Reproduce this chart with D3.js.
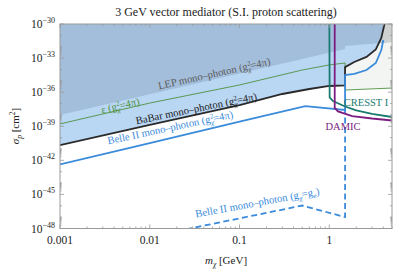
<!DOCTYPE html>
<html><head><meta charset="utf-8">
<script src="https://cdn.jsdelivr.net/npm/d3@7"></script>
<style>body{margin:0;background:#fff}svg text{font-family:"Liberation Serif","DejaVu Serif",serif}</style>
</head><body><svg id="c" width="399" height="269"></svg>
<script>
// ---- data (m in GeV, sigma in cm^2) ----
const lepM     = [0.001, 0.01, 0.1, 0.5, 1.0, 1.5, 1.5, 3.8, 5.0];
const lepSigma = [9.8e-39, 6.6e-37, 4.5e-35, 8.5e-34, 3.0e-33, 6.3e-33, 1.15e-32, 2.1e-32, 2.6e-32];

const epsM     = [0.001, 0.01, 0.1, 0.5, 1.0, 1.5, 1.5, 5.0];
const epsSigma = [1.6e-39, 1.1e-37, 4.3e-36, 8.9e-35, 2.5e-34, 3.7e-34, 1.55e-36, 2.3e-36];

const babarM     = [0.001, 0.01, 0.1, 0.3, 0.6, 1.0, 1.5, 1.5, 1.9, 2.6, 3.3, 3.8, 4.1, 4.2];
const babarSigma = [2.2e-41, 1.3e-39, 7.4e-38, 6.9e-37, 1.9e-36, 3.5e-36, 3.9e-36, 1.6e-34, 4.5e-34, 1.26e-33, 5.8e-33, 5.9e-32, 8.1e-31, 2.2e-30];

const belleM     = [0.001, 0.01, 0.1, 0.54, 1.5, 1.5, 1.9, 2.6, 3.3, 3.8, 4.0];
const belleSigma = [4.3e-43, 3.3e-41, 2.6e-39, 6.0e-38, 2.7e-38, 3.2e-35, 4.0e-35, 8.9e-35, 3.7e-34, 5.1e-33, 3.9e-32];

const belleGeM     = [0.02, 0.5, 1.5, 1.5];
const belleGeSigma = [5.8e-49, 1.05e-46, 1.02e-47, 2.7e-38];

const cresstM     = [1.0, 1.01, 1.1, 1.5, 2.0, 3.0, 5.0];
const cresstSigma = [1e-28, 3.4e-37, 1.66e-37, 5.5e-38, 2.45e-38, 1.2e-38, 6.5e-39];

const damicM     = [1.15, 1.15, 1.25, 1.8, 3.0, 5.0];
const damicSigma = [1e-28, 4.1e-38, 2.0e-38, 7.9e-39, 4.8e-39, 3.2e-39];

const greyM     = [3.75, 3.8, 4.1, 4.2, 5.0, 5.0];
const greySigma = [2.6e-32, 5.9e-32, 8.1e-31, 1e-30, 1e-30, 2.6e-32];

const xTickVals   = [0.001, 0.01, 0.1, 1];
const xTickLabels = ["0.001", "0.01", "0.1", "1"];
const yTickExps   = [-30, -33, -36, -39, -42, -45, -48];

const title = "3 GeV vector mediator (S.I. proton scattering)";

// ---- layout ----
const svg = d3.select("#c");
const L = 60, R = 392, T = 24, B = 228.5;
const x = d3.scaleLog().domain([0.001, 5]).range([L, R]);
const y = d3.scaleLog().domain([1e-48, 1e-30]).range([B, T]);

svg.append("defs").append("clipPath").attr("id","pc")
  .append("rect").attr("x",L).attr("y",T).attr("width",R-L).attr("height",B-T);
const g = svg.append("g").attr("clip-path","url(#pc)");

const pts = (ms, ss) => ms.map((m,i)=>[x(m), y(ss[i])]);
const line = d3.line();

// light grey region right of 1.5 GeV above eps line
const epsPts = pts(epsM, epsSigma);
const greyLow = epsPts.slice(6);
g.append("path").attr("fill","#f3f5f2")
  .attr("d", line([...greyLow, [x(5), y(1e-30)], [x(1.5), y(1e-30)]]) + "Z");

// BaBar light blue
const babarPts = pts(babarM, babarSigma);
g.append("path").attr("fill","#b9d6f3")
  .attr("d", line([...babarPts, [x(0.001), y(1e-28)]]) + "Z");

// LEP dark blue
const lepPts = pts(lepM, lepSigma);
g.append("path").attr("fill","#a3bedb")
  .attr("d", line([...lepPts, [x(5), y(1e-30)], [x(0.001), y(1e-30)]]) + "Z");

// grey corner
g.append("path").attr("fill","#cfd0d0")
  .attr("d", line(pts(greyM, greySigma)) + "Z");

// lines
g.append("path").attr("fill","none").attr("stroke","#4f9140").attr("stroke-width",0.9).attr("d", line(epsPts));
g.append("path").attr("fill","none").attr("stroke","#2a2a2a").attr("stroke-width",1.8).attr("d", line(babarPts));
g.append("path").attr("fill","none").attr("stroke","#3b8bdb").attr("stroke-width",1.8).attr("d", line(pts(belleM, belleSigma)));
g.append("path").attr("fill","none").attr("stroke","#3b8bdb").attr("stroke-width",1.8)
  .attr("stroke-dasharray","6,3.5").attr("d", line(pts(belleGeM, belleGeSigma)));
g.append("path").attr("fill","none").attr("stroke","#1b7a70").attr("stroke-width",1.8).attr("d", line(pts(cresstM, cresstSigma)));
g.append("path").attr("fill","none").attr("stroke","#7d1c80").attr("stroke-width",1.8).attr("d", line(pts(damicM, damicSigma)));

// frame
svg.append("rect").attr("x",L).attr("y",T).attr("width",R-L).attr("height",B-T)
  .attr("fill","none").attr("stroke","#999").attr("stroke-width",1);

// ticks
const tk = svg.append("g").attr("stroke","#999").attr("stroke-width",0.8);
const xMinor = [];
for (let e=-3; e<=0; e++) for (let k=2;k<=9;k++){ const v=k*Math.pow(10,e); if (v<=5) xMinor.push(v); }
xTickVals.forEach(v=>{
  tk.append("line").attr("x1",x(v)).attr("x2",x(v)).attr("y1",B).attr("y2",B-4);
  tk.append("line").attr("x1",x(v)).attr("x2",x(v)).attr("y1",T).attr("y2",T+4);
});
xMinor.forEach(v=>{
  tk.append("line").attr("x1",x(v)).attr("x2",x(v)).attr("y1",B).attr("y2",B-2);
  tk.append("line").attr("x1",x(v)).attr("x2",x(v)).attr("y1",T).attr("y2",T+2);
});
for (let e=-48; e<=-30; e++){
  const major = yTickExps.includes(e);
  const len = major ? 4 : 2;
  const yy = y(Math.pow(10,e));
  tk.append("line").attr("x1",L).attr("x2",L+len).attr("y1",yy).attr("y2",yy);
  tk.append("line").attr("x1",R).attr("x2",R-len).attr("y1",yy).attr("y2",yy);
}
yTickExps.forEach(e=>{
  for (let k=2;k<=9;k++){
    const v = k*Math.pow(10,e);
    if (v>1e-30) continue;
    const yy = y(v);
    tk.append("line").attr("x1",L).attr("x2",L+1.5).attr("y1",yy).attr("y2",yy);
    tk.append("line").attr("x1",R).attr("x2",R-1.5).attr("y1",yy).attr("y2",yy);
  }
});

// tick labels
xTickVals.forEach((v,i)=>{
  svg.append("text").attr("x",x(v)).attr("y",244).attr("text-anchor","middle")
    .attr("font-size",11.5).attr("fill","#222").text(xTickLabels[i]);
});
yTickExps.forEach(e=>{
  const t = svg.append("text").attr("x",55).attr("y",y(Math.pow(10,e))+4)
    .attr("text-anchor","end").attr("font-size",11.5).attr("fill","#222");
  t.append("tspan").text("10");
  t.append("tspan").attr("dy",-5).attr("font-size",8).text("\u2212" + Math.abs(e));
});

// title & axis labels
svg.append("text").attr("x",226).attr("y",16).attr("text-anchor","middle")
  .attr("font-size",12).attr("fill","#222").text(title);
const xl = svg.append("text").attr("x",226).attr("y",264).attr("text-anchor","middle")
  .attr("font-size",11).attr("fill","#222");
xl.append("tspan").attr("font-style","italic").text("m");
xl.append("tspan").attr("font-size",7.5).attr("font-style","italic").attr("dy",2.5).text("\u03c7");
xl.append("tspan").attr("dy",-2.5).text(" [GeV]");
const yl = svg.append("text").attr("transform","translate(19,126) rotate(-90)").attr("text-anchor","middle")
  .attr("font-size",11).attr("fill","#222");
yl.append("tspan").attr("font-style","italic").text("\u03c3");
yl.append("tspan").attr("font-size",7.5).attr("font-style","italic").attr("dy",2.5).text("p");
yl.append("tspan").attr("dy",-2.5).text(" [cm");
yl.append("tspan").attr("font-size",7.5).attr("dy",-4).text("2");
yl.append("tspan").attr("dy",4).text("]");

// in-plot labels
function gLabel(parent, pre, post){
  parent.append("tspan").text(pre);
  parent.append("tspan").attr("font-size",7).attr("dy",-3.8).text("2");
  parent.append("tspan").attr("font-size",7).attr("font-style","italic").attr("dx",-3.5).attr("dy",6.3).text("\u03c7");
  parent.append("tspan").attr("dy",-2.5).text(post);
}
function rotLabel(cx, cy, ang, color){
  return svg.append("text").attr("transform",`translate(${cx},${cy}) rotate(${ang})`)
    .attr("text-anchor","middle").attr("font-size",10.6).attr("fill",color);
}
gLabel(rotLabel(215,77,-12.5,"#5a5a5a"), "LEP mono\u2013photon (g", "=4\u03c0)");
gLabel(rotLabel(121,109,-13,"#4f9140"), "\u03b5 (g", "=4\u03c0)");
gLabel(rotLabel(197,112,-11.5,"#1a1a1a"), "BaBar mono\u2013photon (g", "=4\u03c0)");
gLabel(rotLabel(171,131,-12,"#3b8bdb"), "Belle II mono\u2013photon (g", "=4\u03c0)");
const bd = rotLabel(258,206,-10.5,"#3b8bdb");
bd.append("tspan").text("Belle II mono\u2013photon (g");
bd.append("tspan").attr("font-size",7).attr("font-style","italic").attr("dy",2.5).text("\u03c7");
bd.append("tspan").attr("dy",-2.5).text("=g");
bd.append("tspan").attr("font-size",7).attr("font-style","italic").attr("dy",2.5).text("e");
bd.append("tspan").attr("dy",-2.5).text(")");
svg.append("text").attr("x",366).attr("y",106).attr("text-anchor","middle").attr("font-size",10.5).attr("fill","#1b7a70").text("CRESST I");
svg.append("text").attr("x",343).attr("y",130).attr("text-anchor","middle").attr("font-size",10.5).attr("fill","#7d1c80").text("DAMIC");
</script></body></html>
